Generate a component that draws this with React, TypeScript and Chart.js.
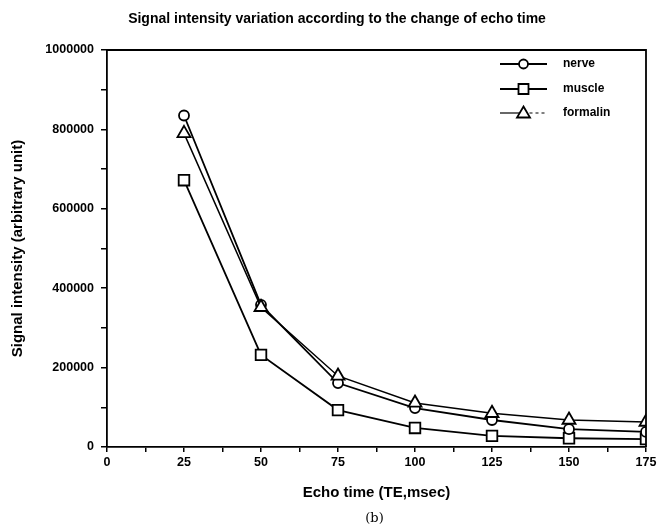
import React, { useEffect, useRef } from "react";
import { Chart, registerables } from "chart.js";

Chart.register(...registerables);

const echoTimes = [25, 50, 75, 100, 125, 150, 175];
const nerve = [835000, 358000, 161000, 98000, 68000, 45000, 38000];
const muscle = [672000, 232000, 93000, 48000, 28000, 22000, 20000];
const formalin = [790000, 352000, 179000, 111000, 85000, 68000, 63000];

const seriesNames = ["nerve", "muscle", "formalin"];
const chartTitle = "Signal intensity variation according to the change of echo time";
const xTitle = "Echo time (TE,msec)";
const yTitle = "Signal intensity (arbitrary unit)";
const caption = "(b)";

const FONT = '"Liberation Sans", Arial, sans-serif';

const toPoints = (ys: number[]) => echoTimes.map((x, i) => ({ x, y: ys[i] }));

const extrasPlugin = {
  id: "extras",
  afterDraw(chart: any) {
    const { ctx, chartArea } = chart;
    const { left, right, top, bottom } = chartArea;
    ctx.save();
    // top and right frame
    ctx.strokeStyle = "#000";
    ctx.lineWidth = 1.8;
    ctx.beginPath();
    ctx.moveTo(left, top);
    ctx.lineTo(right, top);
    ctx.lineTo(right, bottom);
    ctx.stroke();

    // title
    ctx.fillStyle = "#000";
    ctx.font = `bold 14px ${FONT}`;
    ctx.textAlign = "center";
    ctx.textBaseline = "middle";
    ctx.fillText(chartTitle, 337, 19);

    // caption
    ctx.font = `13px "DejaVu Serif", serif`;
    ctx.fillText(caption, (left + right) / 2 - 2, 519);

    // legend
    const styles = ["circle", "rect", "triangle"];
    const rows = [64, 89, 113];
    const x0 = left + 393;
    const x1 = x0 + 47;
    const xm = (x0 + x1) / 2;
    ctx.textAlign = "left";
    ctx.font = `bold 12px ${FONT}`;
    seriesNames.forEach((name, i) => {
      const y = rows[i];
      ctx.strokeStyle = "#000";
      if (i === 2) {
        ctx.lineWidth = 1.2;
        ctx.beginPath();
        ctx.moveTo(x0, y);
        ctx.lineTo(xm, y);
        ctx.stroke();
        ctx.setLineDash([3, 3]);
        ctx.beginPath();
        ctx.moveTo(xm, y);
        ctx.lineTo(x1, y);
        ctx.stroke();
        ctx.setLineDash([]);
      } else {
        ctx.lineWidth = 1.8;
        ctx.beginPath();
        ctx.moveTo(x0, y);
        ctx.lineTo(x1, y);
        ctx.stroke();
      }
      ctx.fillStyle = "#fff";
      ctx.lineWidth = 1.8;
      ctx.beginPath();
      if (styles[i] === "circle") {
        ctx.arc(xm, y, 4.5, 0, Math.PI * 2);
      } else if (styles[i] === "rect") {
        ctx.rect(xm - 5, y - 5, 10, 10);
      } else {
        ctx.moveTo(xm, y - 6.5);
        ctx.lineTo(xm + 6.5, y + 4.5);
        ctx.lineTo(xm - 6.5, y + 4.5);
        ctx.closePath();
      }
      ctx.fill();
      ctx.stroke();
      ctx.fillStyle = "#000";
      ctx.fillText(name, x1 + 16, y);
    });
    ctx.restore();
  },
};

export default function App() {
  const ref = useRef<HTMLCanvasElement | null>(null);

  useEffect(() => {
    if (!ref.current) return;
    const common = {
      borderColor: "#000",
      pointBackgroundColor: "#fff",
      pointBorderColor: "#000",
      pointBorderWidth: 1.8,
      fill: false,
      tension: 0,
    };
    const tickFont = { family: FONT, weight: "bold", size: 12.5 };
    const titleFont = { family: FONT, weight: "bold", size: 15 };
    const chart = new Chart(ref.current, {
      type: "line",
      data: {
        datasets: [
          {
            ...common,
            label: seriesNames[0],
            data: toPoints(nerve),
            borderWidth: 1.8,
            pointStyle: "circle",
            pointRadius: 5,
            order: 1,
          },
          {
            ...common,
            label: seriesNames[1],
            data: toPoints(muscle),
            borderWidth: 1.8,
            pointStyle: "rect",
            pointRadius: 7.5,
            order: 2,
          },
          {
            ...common,
            label: seriesNames[2],
            data: toPoints(formalin),
            borderWidth: 1.5,
            pointStyle: "triangle",
            pointRadius: 7.5,
            order: 0,
          },
        ],
      },
      options: {
        animation: false,
        responsive: false,
        devicePixelRatio: 1,
        layout: { padding: { top: 50, right: 23, left: 0, bottom: 0 } },
        plugins: {
          legend: { display: false },
          tooltip: { enabled: false },
          title: { display: false },
        },
        scales: {
          x: {
            type: "linear",
            min: 0,
            max: 175,
            afterFit: (s: any) => {
              s.height = 85;
            },
            ticks: {
              stepSize: 12.5,
              autoSkip: false,
              maxRotation: 0,
              padding: 3,
              color: "#000",
              font: tickFont,
              callback: (v: any) => (Number(v) % 25 === 0 ? String(v) : ""),
            },
            grid: {
              display: true,
              drawOnChartArea: false,
              drawTicks: true,
              tickLength: 5,
              color: "#000",
              lineWidth: 1.5,
            },
            border: { display: true, color: "#000", width: 1.8 },
            title: {
              display: true,
              text: xTitle,
              color: "#000",
              font: titleFont,
              padding: { top: 0, bottom: 30 },
            },
          },
          y: {
            type: "linear",
            min: 0,
            max: 1000000,
            afterFit: (s: any) => {
              s.width = 107;
            },
            ticks: {
              stepSize: 100000,
              autoSkip: false,
              padding: 7,
              color: "#000",
              font: tickFont,
              callback: (v: any) => (Number(v) % 200000 === 0 ? String(v) : ""),
            },
            grid: {
              display: true,
              drawOnChartArea: false,
              drawTicks: true,
              tickLength: 6,
              color: "#000",
              lineWidth: 1.5,
            },
            border: { display: true, color: "#000", width: 1.8 },
            title: {
              display: true,
              text: yTitle,
              color: "#000",
              font: titleFont,
              padding: { top: 9, bottom: 0 },
            },
          },
        },
      },
      plugins: [extrasPlugin],
    } as any);
    return () => chart.destroy();
  }, []);

  return (
    <div style={{ position: "fixed", left: 0, top: 0, width: 669, height: 532, background: "#fff" }}>
      <canvas ref={ref} width={669} height={532} style={{ display: "block", width: 669, height: 532 }} />
    </div>
  );
}
